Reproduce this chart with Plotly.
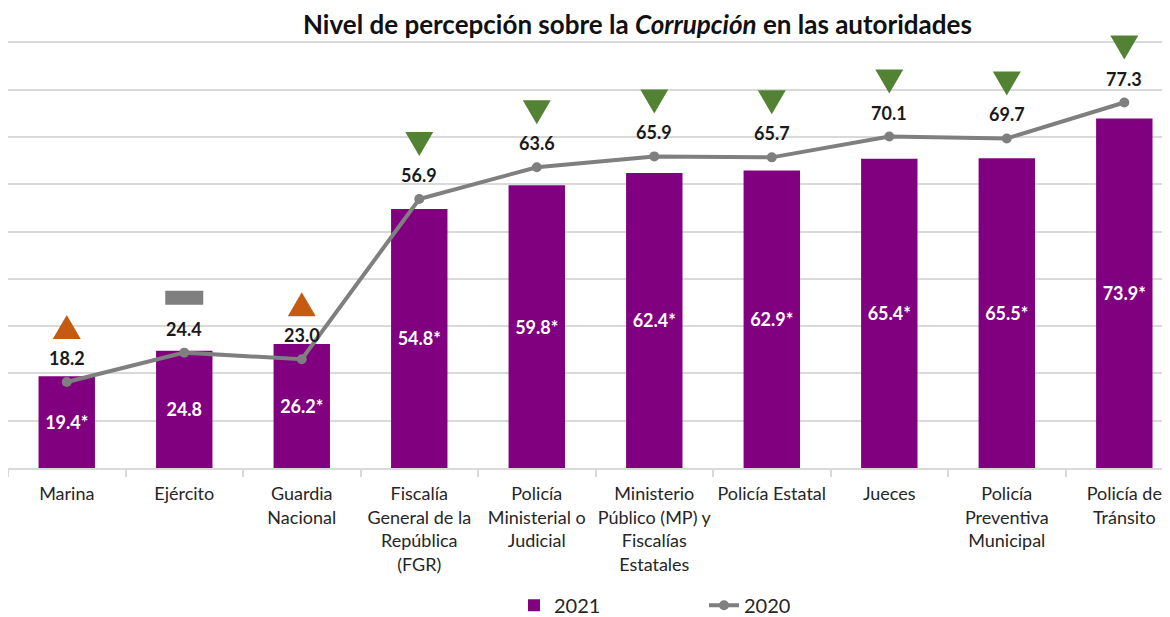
import plotly.graph_objects as go

categories = [
    "Marina", "Ejército", "Guardia<br>Nacional",
    "Fiscalía<br>General de la<br>República<br>(FGR)",
    "Policía<br>Ministerial o<br>Judicial",
    "Ministerio<br>Público (MP) y<br>Fiscalías<br>Estatales",
    "Policía Estatal", "Jueces",
    "Policía<br>Preventiva<br>Municipal",
    "Policía de<br>Tránsito",
]
v2021 = [19.4, 24.8, 26.2, 54.8, 59.8, 62.4, 62.9, 65.4, 65.5, 73.9]
sig2021 = [True, False, True, True, True, True, True, True, True, True]
v2020 = [18.2, 24.4, 23.0, 56.9, 63.6, 65.9, 65.7, 70.1, 69.7, 77.3]
trend = ["up", "same", "up", "down", "down", "down", "down", "down", "down", "down"]

FONT = "Lato"
PURPLE = "#800080"
GRAY = "#7F7F7F"
ORANGE = "#C55A11"
GREEN = "#548235"

# figure geometry (page is offset by 8px body margin)
T, B = 25.2, 153.3
PH = 617 - T - B

fig = go.Figure()
fig.add_trace(go.Bar(
    x=categories, y=v2021, name="2021",
    marker=dict(color=PURPLE, line=dict(width=0)),
    width=0.48,
    text=[f"{v:.1f}*" if s else f"{v:.1f}" for v, s in zip(v2021, sig2021)],
    textposition="inside", insidetextanchor="middle",
    textfont=dict(color="white", size=18, family=FONT, weight="bold"),
    textangle=0,
))
fig.add_trace(go.Scatter(
    x=categories, y=v2020, name="2020", mode="lines+markers",
    line=dict(color=GRAY, width=4),
    marker=dict(color=GRAY, size=10),
))

annotations = []
for c, v in zip(categories, v2020):
    annotations.append(dict(
        x=c, y=v, xref="x", yref="y", yshift=24, showarrow=False,
        text=f"<b>{v:.1f}</b>", font=dict(size=18, family=FONT, color="#1a1a1a"),
        yanchor="middle",
    ))
annotations.append(dict(
    x=629 / 1170, y=1 + (T - 16) / PH, xref="paper", yref="paper",
    showarrow=False, yanchor="middle", xanchor="center",
    text="<b>Nivel de percepción sobre la <i>Corrupción</i> en las autoridades</b>",
    font=dict(size=26, family=FONT, color="#111111"),
))

shapes = []
for c, v, t in zip(categories, v2020, trend):
    base = dict(xref="x", yref="y", xsizemode="pixel", ysizemode="pixel",
                xanchor=c, yanchor=v, line=dict(width=0))
    if t == "up":
        shapes.append(dict(type="path", path="M -14,43 L 14,43 L 0,67 Z",
                           fillcolor=ORANGE, **base))
    elif t == "down":
        shapes.append(dict(type="path", path="M -14,67 L 14,67 L 0,43 Z",
                           fillcolor=GREEN, **base))
    else:
        shapes.append(dict(type="rect", x0=-19, x1=19, y0=48, y1=62,
                           fillcolor=GRAY, **base))

fig.update_layout(
    width=1170, height=617,
    margin=dict(l=0, r=0, t=T, b=B),
    plot_bgcolor="white", paper_bgcolor="white",
    font=dict(family=FONT, color="#262626"),
    annotations=annotations, shapes=shapes,
    showlegend=True,
    legend=dict(orientation="h", x=506 / 1170, xanchor="left",
                y=-(602 - (617 - B)) / PH, yanchor="middle",
                font=dict(size=20, family=FONT, color="#262626"),
                entrywidth=145, entrywidthmode="pixels", traceorder="normal"),
)
fig.update_xaxes(
    type="category", range=[-0.5, 9.457],
    showline=True, linecolor="#D9D9D9", linewidth=1.5,
    ticks="outside", tickson="boundaries", ticklen=7, tickcolor="#D9D9D9", tickwidth=1.5,
    tickfont=dict(size=18, family=FONT, color="#262626"),
    ticklabelstandoff=9,
    showgrid=False, tickangle=0,
)
fig.update_yaxes(
    range=[0, 92], dtick=10, showgrid=True, gridcolor="#D9D9D9", gridwidth=1.5,
    showticklabels=False, zeroline=False, showline=False,
)

fig.write_html("out.html")
